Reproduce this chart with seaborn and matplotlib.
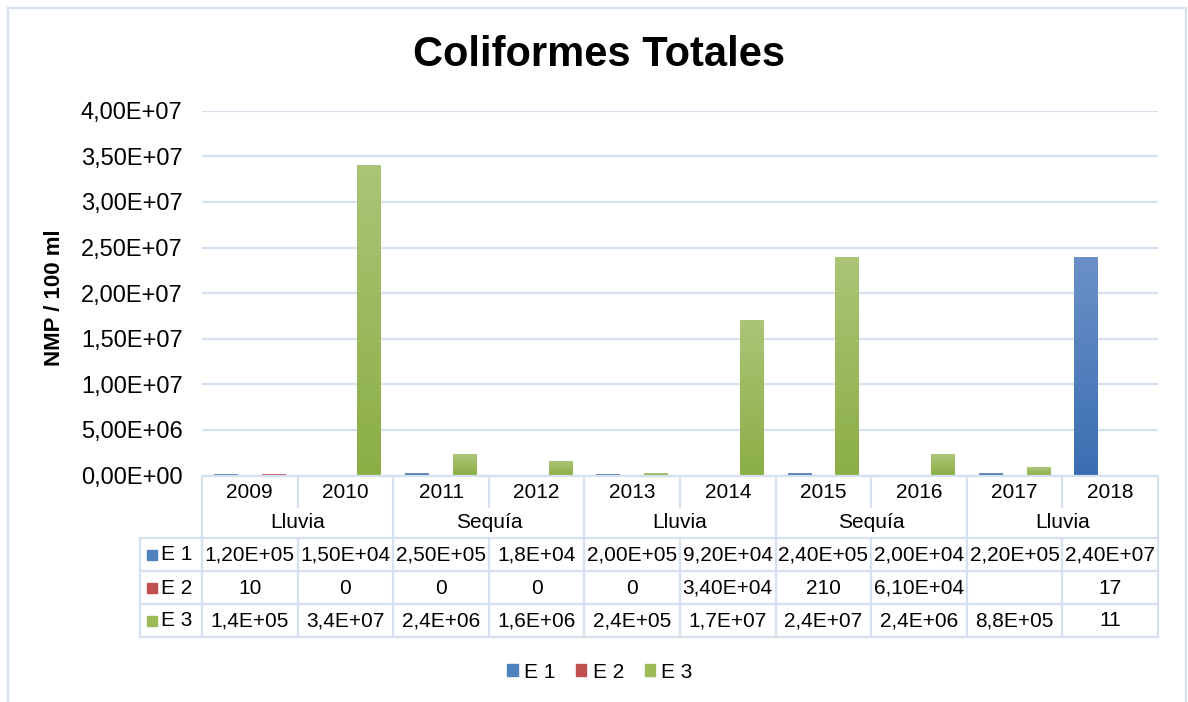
import numpy as np
import pandas as pd
import seaborn as sns
import matplotlib.pyplot as plt
from matplotlib.lines import Line2D
from matplotlib.patches import Rectangle, Patch
from matplotlib.colors import LinearSegmentedColormap
from matplotlib.ticker import FuncFormatter
from matplotlib.transforms import blended_transform_factory

# data
years = ["2009", "2010", "2011", "2012", "2013", "2014", "2015", "2016", "2017", "2018"]
periods = ["Lluvia", "Sequía", "Lluvia", "Sequía", "Lluvia"]
series = ["E 1", "E 2", "E 3"]
e1 = [1.2e5, 1.5e4, 2.5e5, 1.8e4, 2.0e5, 9.2e4, 2.4e5, 2.0e4, 2.2e5, 2.4e7]
e2 = [10, 0, 0, 0, 0, 3.4e4, 210, 6.1e4, np.nan, 17]
e3 = [1.4e5, 3.4e7, 2.4e6, 1.6e6, 2.4e5, 1.7e7, 2.4e7, 2.4e6, 8.8e5, 11]
# as printed in the data table
e1_txt = ["1,20E+05", "1,50E+04", "2,50E+05", "1,8E+04", "2,00E+05", "9,20E+04", "2,40E+05", "2,00E+04", "2,20E+05", "2,40E+07"]
e2_txt = ["10", "0", "0", "0", "0", "3,40E+04", "210", "6,10E+04", "", "17"]
e3_txt = ["1,4E+05", "3,4E+07", "2,4E+06", "1,6E+06", "2,4E+05", "1,7E+07", "2,4E+07", "2,4E+06", "8,8E+05", "11"]

colors = {"E 1": "#4F81BD", "E 2": "#C0504D", "E 3": "#9BBB59"}
grads = {"E 1": ("#3A6EB1", "#6B90C8"), "E 2": ("#B43E3B", "#CD6B69"), "E 3": ("#8BAE45", "#AAC577")}
line_c = "#D5E1F0"

df = pd.DataFrame({
    "year": years * 3,
    "serie": ["E 1"] * 10 + ["E 2"] * 10 + ["E 3"] * 10,
    "value": e1 + e2 + e3,
})

plt.rcParams['font.family'] = ['Liberation Sans', 'DejaVu Sans']

W, H = 1188, 702
fig = plt.figure(figsize=(W / 100, H / 100), dpi=100)
fx = lambda p: p / W
fy = lambda p: 1 - p / H

ax = fig.add_axes([fx(202), fy(475.5), fx(1158 - 202), (475.5 - 110.7) / H])
sns.barplot(data=df, x="year", y="value", hue="serie", order=years, hue_order=series,
            palette=colors, width=0.75, errorbar=None, ax=ax, legend=False, zorder=2)

# excel-like vertical gradient on each bar (gradient image replaces the flat patch)
for bar, s in zip(ax.patches, [s for s in series for _ in years]):
    bar.set_visible(False)
    h = bar.get_height()
    if not np.isfinite(h) or h <= 0:
        continue
    cmap = LinearSegmentedColormap.from_list(s, grads[s])
    x0 = bar.get_x()
    ax.imshow(np.linspace(0, 1, 256).reshape(-1, 1), extent=[x0, x0 + bar.get_width(), 0, h],
              origin="lower", aspect="auto", cmap=cmap, zorder=3)

ax.set_xlim(-0.5, 9.5)
ax.set_ylim(0, 4e7)
ax.set_yticks(np.arange(0, 4.01e7, 5e6))
ax.yaxis.set_major_formatter(FuncFormatter(lambda v, p: f"{v:.2E}".replace(".", ",")))
ax.tick_params(axis="y", length=0, pad=14, labelsize=17)
ax.tick_params(axis="x", length=0, labelbottom=False)
ax.grid(axis="y", color=line_c, lw=1.6, zorder=0)
ax.set_axisbelow(True)
for sp in ax.spines.values():
    sp.set_visible(False)
ax.set_xlabel("")
ax.set_ylabel("")

# data table under the axis
tr = blended_transform_factory(ax.transData, fig.transFigure)

def hline(y, x0, x1):
    fig.add_artist(Line2D([fx(x0), fx(x1)], [fy(y), fy(y)], color=line_c, lw=1.6))

def vline(xd, y0, y1):
    fig.add_artist(Line2D([xd, xd], [fy(y0), fy(y1)], color=line_c, lw=1.6, transform=tr))

hline(475.5, 202, 1158)
for y in [538, 571, 604, 637]:
    hline(y, 140, 1158)
fig.add_artist(Line2D([fx(140), fx(140)], [fy(538), fy(637)], color=line_c, lw=1.6))
vline(-0.5, 475.5, 637)
vline(9.5, 475.5, 637)
for i in range(9):
    b = i + 0.5
    if i % 2 == 1:
        vline(b, 475.5, 637)
    else:
        vline(b, 475.5, 507)
        vline(b, 538, 637)

for i, yr in enumerate(years):
    fig.text(i, fy(492), yr, transform=tr, ha="center", va="center", fontsize=15)
    fig.text(i, fy(555), e1_txt[i], transform=tr, ha="center", va="center", fontsize=15)
    fig.text(i, fy(588), e2_txt[i], transform=tr, ha="center", va="center", fontsize=15)
    fig.text(i, fy(621), e3_txt[i], transform=tr, ha="center", va="center", fontsize=15)
for k, per in enumerate(periods):
    fig.text(2 * k + 0.5, fy(522), per, transform=tr, ha="center", va="center", fontsize=15)

for s, y in zip(series, [555, 588, 621]):
    fig.add_artist(Rectangle((fx(147), fy(y + 5)), fx(10), 10 / H, color=colors[s]))
    fig.text(fx(161), fy(y), s, ha="left", va="center", fontsize=15)

# legend
handles = [Patch(color=colors[s]) for s in series]
fig.legend(handles, series, loc="center", bbox_to_anchor=(fx(600), fy(672)), ncol=3,
           frameon=False, fontsize=15, handlelength=0.5, handleheight=0.5,
           handletextpad=0.3, columnspacing=1.0)

fig.text(fx(599), fy(55), "Coliformes Totales", ha="center", va="center",
         fontsize=30, fontweight="bold")
fig.text(fx(55), fy(298), "NMP / 100 ml", ha="center", va="center", rotation=90,
         fontsize=16, fontweight="bold")

fig.add_artist(Rectangle((fx(8), fy(710)), fx(1178), 702 / H, fill=False, ec=line_c, lw=1.6))

fig.savefig("out.png", dpi=100)
